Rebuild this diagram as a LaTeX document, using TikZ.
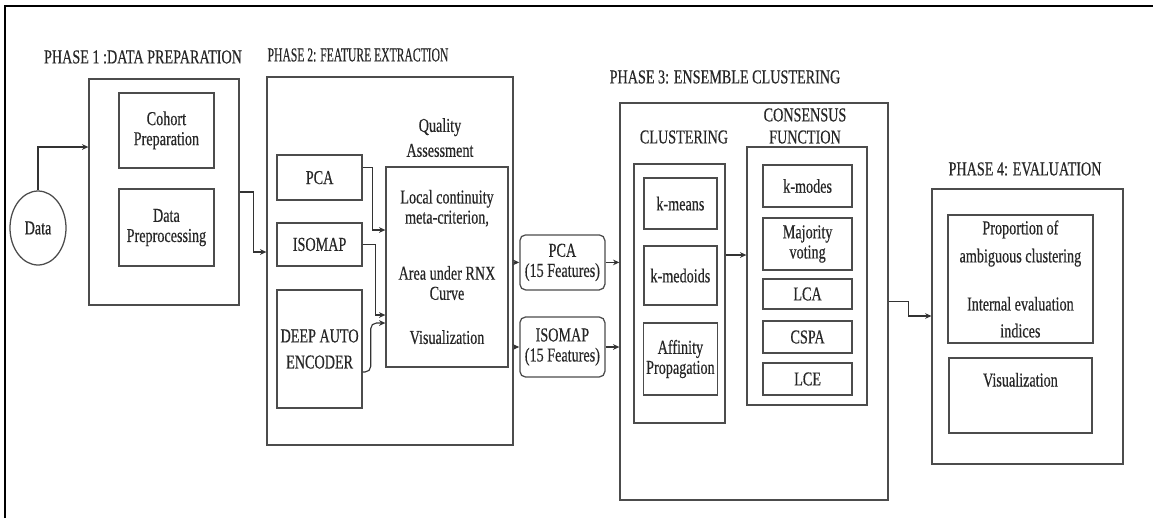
\documentclass[tikz,border=0pt]{standalone}
\usepackage{fontspec}
\setmainfont{Liberation Serif}[FakeStretch=0.72,FakeBold=0.4]
\usepackage{tikz}
\usetikzlibrary{shapes.geometric,arrows.meta,positioning,calc}

\begin{document}
\begin{tikzpicture}[
  font=\fontsize{14}{14.3}\selectfont,
  text=black!85,
  frame/.style={
    rectangle, draw=black!70,
    line width=0.9pt
  },
  box/.style={
    rectangle, draw=black!70,
    align=center, inner sep=2pt,
    line width=0.9pt
  },
  feat/.style={box, rounded corners=4pt},
  head/.style={align=center},
  arr/.style={-{Stealth[length=4.5pt,width=4pt]}, line width=0.8pt, color=black!80}
]
\useasboundingbox (0,0) rectangle (28.825,-12.95);
\draw[line width=2pt] (0.125,-12.95) -- (0.125,-0.15) -- (28.825,-0.15);

% phase 1
\node[head] (t1) at (3.575,-1.425) {PHASE 1 :DATA PREPARATION};
\node[frame, minimum width=3.75cm, minimum height=5.65cm] (p1) at (4.1,-4.8) {};
\node[box, minimum width=2.375cm, minimum height=1.875cm] (cohort) at (4.16,-3.26)
  {Cohort\\Preparation};
\node[box, minimum width=2.375cm, minimum height=1.925cm] (prep) at (4.16,-5.69)
  {Data\\Preprocessing};
\node[ellipse, draw=black!70, line width=0.9pt, minimum width=1.4cm, minimum height=1.85cm,
  inner sep=0pt] (data) at (0.95,-5.7) {Data};

% phase 2
\node[head] (t2) at (8.95,-1.375) {\scalebox{0.82}[1]{PHASE 2: FEATURE EXTRACTION}};
\node[frame, minimum width=6.15cm, minimum height=9.2cm] (p2) at (9.75,-6.525) {};
\node[box, minimum width=2.125cm, minimum height=1.125cm] (pca) at (7.99,-4.44) {PCA};
\node[box, minimum width=2.125cm, minimum height=1.075cm] (iso) at (7.99,-6.11) {ISOMAP};
\node[box, minimum width=2.125cm, minimum height=2.95cm] (dae) at (7.99,-8.725)
  {DEEP AUTO\\[0.15cm]ENCODER};
\node[head] (qat) at (11.0,-3.44) {Quality\\[0.12cm]Assessment};
\node[box, minimum width=3.05cm, minimum height=5.0cm] (qa) at (11.175,-6.675)
  {Local continuity\\meta-criterion,\\[0.9cm]Area under RNX\\Curve\\[0.6cm]Visualization};
\node[feat, minimum width=2.125cm, minimum height=1.375cm] (pca15) at (14.06,-6.56)
  {PCA\\(15 Features)};
\node[feat, minimum width=2.125cm, minimum height=1.5cm] (iso15) at (14.06,-8.675)
  {ISOMAP\\(15 Features)};

% phase 3
\node[head] (t3) at (18.125,-1.925) {PHASE 3: ENSEMBLE CLUSTERING};
\node[frame, minimum width=6.7cm, minimum height=9.925cm] (p3) at (18.85,-7.5375) {};
\node[head] (clt) at (17.1,-3.425) {CLUSTERING};
\node[frame, minimum width=2.275cm, minimum height=6.475cm] (clust) at (16.99,-7.34) {};
\node[box, minimum width=1.825cm, minimum height=1.275cm] (kmeans) at (17.01,-5.09) {k-means};
\node[box, minimum width=1.825cm, minimum height=1.475cm] (kmed) at (17.01,-6.89) {k-medoids};
\node[box, minimum width=1.825cm, minimum height=1.8cm] (aff) at (17.01,-8.975)
  {Affinity\\Propagation};
\node[head] (cft) at (20.125,-3.15) {CONSENSUS\\[0.05cm]FUNCTION};
\node[frame, minimum width=3.0cm, minimum height=6.45cm] (cons) at (20.175,-6.9) {};
\node[box, minimum width=2.225cm, minimum height=1.05cm] (kmodes) at (20.19,-4.65) {k-modes};
\node[box, minimum width=2.225cm, minimum height=1.3cm] (vote) at (20.19,-6.1)
  {Majority\\voting};
\node[box, minimum width=2.225cm, minimum height=0.75cm] (lca) at (20.19,-7.35) {LCA};
\node[box, minimum width=2.225cm, minimum height=0.8cm] (cspa) at (20.19,-8.425) {CSPA};
\node[box, minimum width=2.225cm, minimum height=0.8cm] (lce) at (20.19,-9.475) {LCE};

% phase 4
\node[head] (t4) at (25.625,-4.225) {PHASE 4: EVALUATION};
\node[frame, minimum width=4.775cm, minimum height=6.875cm] (p4) at (25.69,-8.1625) {};
\node[box, minimum width=3.625cm, minimum height=3.2cm] (eval) at (25.51,-6.975)
  {Proportion of\\[0.2cm]ambiguous clustering\\[0.7cm]Internal evaluation\\[0.17cm]indices};
\node[box, minimum width=3.575cm, minimum height=1.875cm, text height=0.6cm, text depth=1.05cm]
  (vis) at (25.51,-9.8875) {Visualization};

% connectors
\draw[arr] (data.north) |- ($(p1.west)+(0,1.125)$);
\draw[arr] (p1.east) -- ++(0.35,0) |- ($(p2.west)+(0,0.225)$);
\draw[arr] ($(pca.east)+(0,0.25)$) -- ++(0.25,0) |- ($(qa.west)+(0,0.925)$);
\draw[arr] (iso.east) -- ++(0.32,0) |- ($(qa.west)+(0,-1.2)$);
\draw[arr, rounded corners=4pt] ($(dae.east)+(0,-0.575)$) -- ++(0.2,0) |- ($(qa.west)+(0,-1.4)$);
\draw[arr] (pca15.west -| p2.east) -- (pca15.west);
\draw[arr] (iso15.west -| p2.east) -- (iso15.west);
\draw[arr] (pca15.east) -- (pca15.east -| p3.west);
\draw[arr] (iso15.east) -- (iso15.east -| p3.west);
\coordinate (c1) at ($(clust.east)+(0,0.965)$);
\draw[arr] (c1) -- (c1 -| cons.west);
\draw[arr] (p3.east) -- ++(0.5,0) |- ($(p4.west)+(0,0.2625)$);
\end{tikzpicture}
\end{document}
